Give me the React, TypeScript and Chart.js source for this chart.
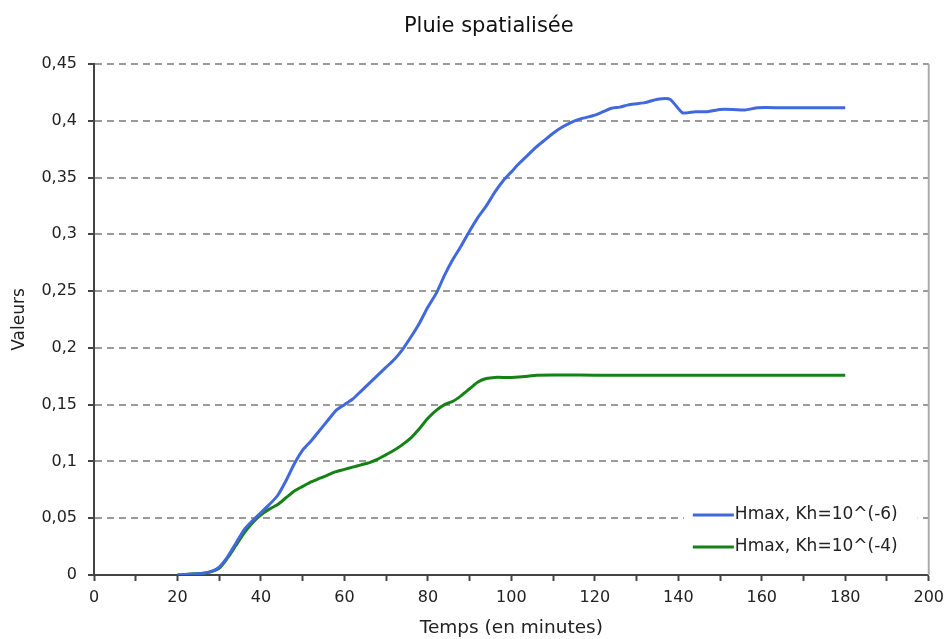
import React, { useEffect, useRef } from "react";
import { Chart, registerables } from "chart.js";

Chart.register(...registerables);

const chartTitle = "Pluie spatialisée";
const xAxisTitle = "Temps (en minutes)";
const yAxisTitle = "Valeurs";
const seriesNames = ["Hmax, Kh=10^(-6)", "Hmax, Kh=10^(-4)"];

const timesKh6 = [20, 25, 28, 30, 32, 34, 36, 38, 40, 42, 44, 46, 48, 50, 52, 54, 56, 58, 60, 62, 64, 66, 68, 70, 72, 74, 76, 78, 80, 82, 84, 86, 88, 90, 92, 94, 96, 98, 100, 102, 104, 106, 108, 110, 112, 114, 116, 118, 120, 122, 124, 126, 128, 130, 132, 135, 138, 141, 144, 147, 150, 153, 156, 159, 165, 170, 175, 180];
const valuesKh6 = [0, 0.001, 0.003, 0.007, 0.016, 0.028, 0.04, 0.048, 0.055, 0.062, 0.07, 0.083, 0.098, 0.11, 0.118, 0.127, 0.136, 0.145, 0.15, 0.155, 0.162, 0.169, 0.176, 0.183, 0.19, 0.199, 0.21, 0.222, 0.236, 0.248, 0.264, 0.278, 0.29, 0.303, 0.315, 0.325, 0.337, 0.347, 0.355, 0.363, 0.37, 0.377, 0.383, 0.389, 0.394, 0.398, 0.401, 0.403, 0.405, 0.408, 0.411, 0.412, 0.414, 0.415, 0.416, 0.419, 0.419, 0.407, 0.408, 0.408, 0.41, 0.41, 0.4095, 0.4115, 0.4115, 0.4115, 0.4115, 0.4115];

const timesKh4 = [20, 24, 27, 30, 32, 34, 36, 38, 40, 42, 44, 46, 48, 50, 52, 54, 56, 58, 60, 62, 64, 66, 68, 70, 72, 74, 76, 78, 80, 82, 84, 86, 88, 90, 92, 94, 96, 100, 104, 106, 120, 140, 160, 180];
const valuesKh4 = [0, 0.001, 0.002, 0.006, 0.015, 0.026, 0.037, 0.046, 0.053, 0.058, 0.062, 0.068, 0.074, 0.078, 0.082, 0.085, 0.088, 0.091, 0.093, 0.095, 0.097, 0.099, 0.102, 0.106, 0.11, 0.115, 0.121, 0.129, 0.138, 0.145, 0.15, 0.153, 0.158, 0.164, 0.17, 0.173, 0.174, 0.174, 0.175, 0.176, 0.176, 0.176, 0.176, 0.176];

const seriesColors = ["#4169dc", "#168216"];
const FONT = "'DejaVu Sans', Verdana, sans-serif";

const titlePlugin = {
  id: "centeredTitle",
  afterDraw(chart: any) {
    const { ctx, width } = chart;
    ctx.save();
    ctx.font = `21px ${FONT}`;
    ctx.fillStyle = "#111";
    ctx.textAlign = "center";
    ctx.textBaseline = "middle";
    ctx.fillText(chartTitle, width * 0.514, 27);
    ctx.restore();
  },
};

const frameAndLegendPlugin = {
  id: "frameAndLegend",
  afterDatasetsDraw(chart: any) {
    const { ctx, chartArea } = chart;
    ctx.save();
    // right border of the plot area
    ctx.strokeStyle = "#aaa";
    ctx.lineWidth = 2;
    ctx.beginPath();
    ctx.moveTo(chartArea.right, chartArea.top);
    ctx.lineTo(chartArea.right, chartArea.bottom);
    ctx.stroke();

    // legend inside plot area (bottom right)
    ctx.font = `17px ${FONT}`;
    const ds = chart.data.datasets;
    let maxW = 0;
    ds.forEach((d: any) => {
      maxW = Math.max(maxW, ctx.measureText(d.label).width);
    });
    const textX = chartArea.right - 31 - maxW;
    const sampleLen = 41;
    const rowH = 32;
    const firstY = chartArea.bottom - 28 - rowH * (ds.length - 1);
    ctx.fillStyle = "#fff";
    ctx.fillRect(textX - sampleLen - 10, firstY - 14, maxW + sampleLen + 30, rowH * (ds.length - 1) + 30);
    ds.forEach((d: any, i: number) => {
      const y = firstY + i * rowH;
      ctx.strokeStyle = d.borderColor;
      ctx.lineWidth = 3;
      ctx.beginPath();
      ctx.moveTo(textX - sampleLen - 1, y);
      ctx.lineTo(textX - 1, y);
      ctx.stroke();
      ctx.fillStyle = "#222";
      ctx.textAlign = "left";
      ctx.textBaseline = "middle";
      ctx.fillText(d.label, textX, y);
    });
    ctx.restore();
  },
};

export default function App() {
  const canvasRef = useRef<HTMLCanvasElement | null>(null);

  useEffect(() => {
    if (!canvasRef.current) return;
    const chart = new Chart(canvasRef.current, {
      type: "line",
      data: {
        datasets: [
          {
            label: seriesNames[0],
            data: timesKh6.map((t, i) => ({ x: t, y: valuesKh6[i] })),
            borderColor: seriesColors[0],
            backgroundColor: seriesColors[0],
            borderWidth: 3,
            pointRadius: 0,
            tension: 0.2,
          },
          {
            label: seriesNames[1],
            data: timesKh4.map((t, i) => ({ x: t, y: valuesKh4[i] })),
            borderColor: seriesColors[1],
            backgroundColor: seriesColors[1],
            borderWidth: 3,
            pointRadius: 0,
            tension: 0.2,
          },
        ],
      },
      options: {
        responsive: false,
        animation: false,
        layout: { padding: { top: 64, right: 19, left: 0, bottom: 0 } },
        plugins: {
          legend: { display: false },
          title: { display: false },
          tooltip: { enabled: false },
        },
        scales: {
          x: {
            type: "linear",
            min: 0,
            max: 200,
            afterFit: (scale: any) => {
              scale.height = 64;
            },
            ticks: {
              stepSize: 10,
              autoSkip: false,
              maxRotation: 0,
              padding: 7,
              color: "#222",
              font: { family: FONT, size: 16 },
              callback: (v: any) => (Number(v) % 20 === 0 ? String(v) : ""),
            },
            grid: {
              drawOnChartArea: false,
              drawTicks: true,
              tickLength: 6,
              tickWidth: 2,
              tickColor: "#444",
            },
            border: { display: true, color: "#444", width: 2 },
            title: {
              display: true,
              text: xAxisTitle,
              color: "#222",
              font: { family: FONT, size: 18.5 },
              padding: { top: 0, bottom: 0 },
            },
          },
          y: {
            type: "linear",
            min: 0,
            max: 0.45,
            afterFit: (scale: any) => {
              scale.width = 94;
            },
            ticks: {
              stepSize: 0.05,
              padding: 11,
              color: "#222",
              font: { family: FONT, size: 16 },
              callback: (v: any) => String(Number(Number(v).toFixed(2))).replace(".", ","),
            },
            grid: {
              color: (ctx: any) => (ctx.tick && ctx.tick.value === 0 ? "rgba(0,0,0,0)" : "#9a9a9a"),
              lineWidth: 2,
              drawTicks: true,
              tickLength: 6,
              tickWidth: 2,
              tickColor: "#444",
            },
            border: { display: true, color: "#444", width: 2, dash: [7, 5] },
            title: {
              display: true,
              text: yAxisTitle,
              color: "#222",
              font: { family: FONT, size: 17 },
              padding: { top: 9, bottom: 0 },
            },
          },
        },
      },
      plugins: [titlePlugin, frameAndLegendPlugin],
    } as any);
    return () => chart.destroy();
  }, []);

  return (
    <div style={{ position: "fixed", left: 0, top: 0, width: 951, height: 639, background: "#fff" }}>
      <canvas ref={canvasRef} width={951} height={639} />
    </div>
  );
}
